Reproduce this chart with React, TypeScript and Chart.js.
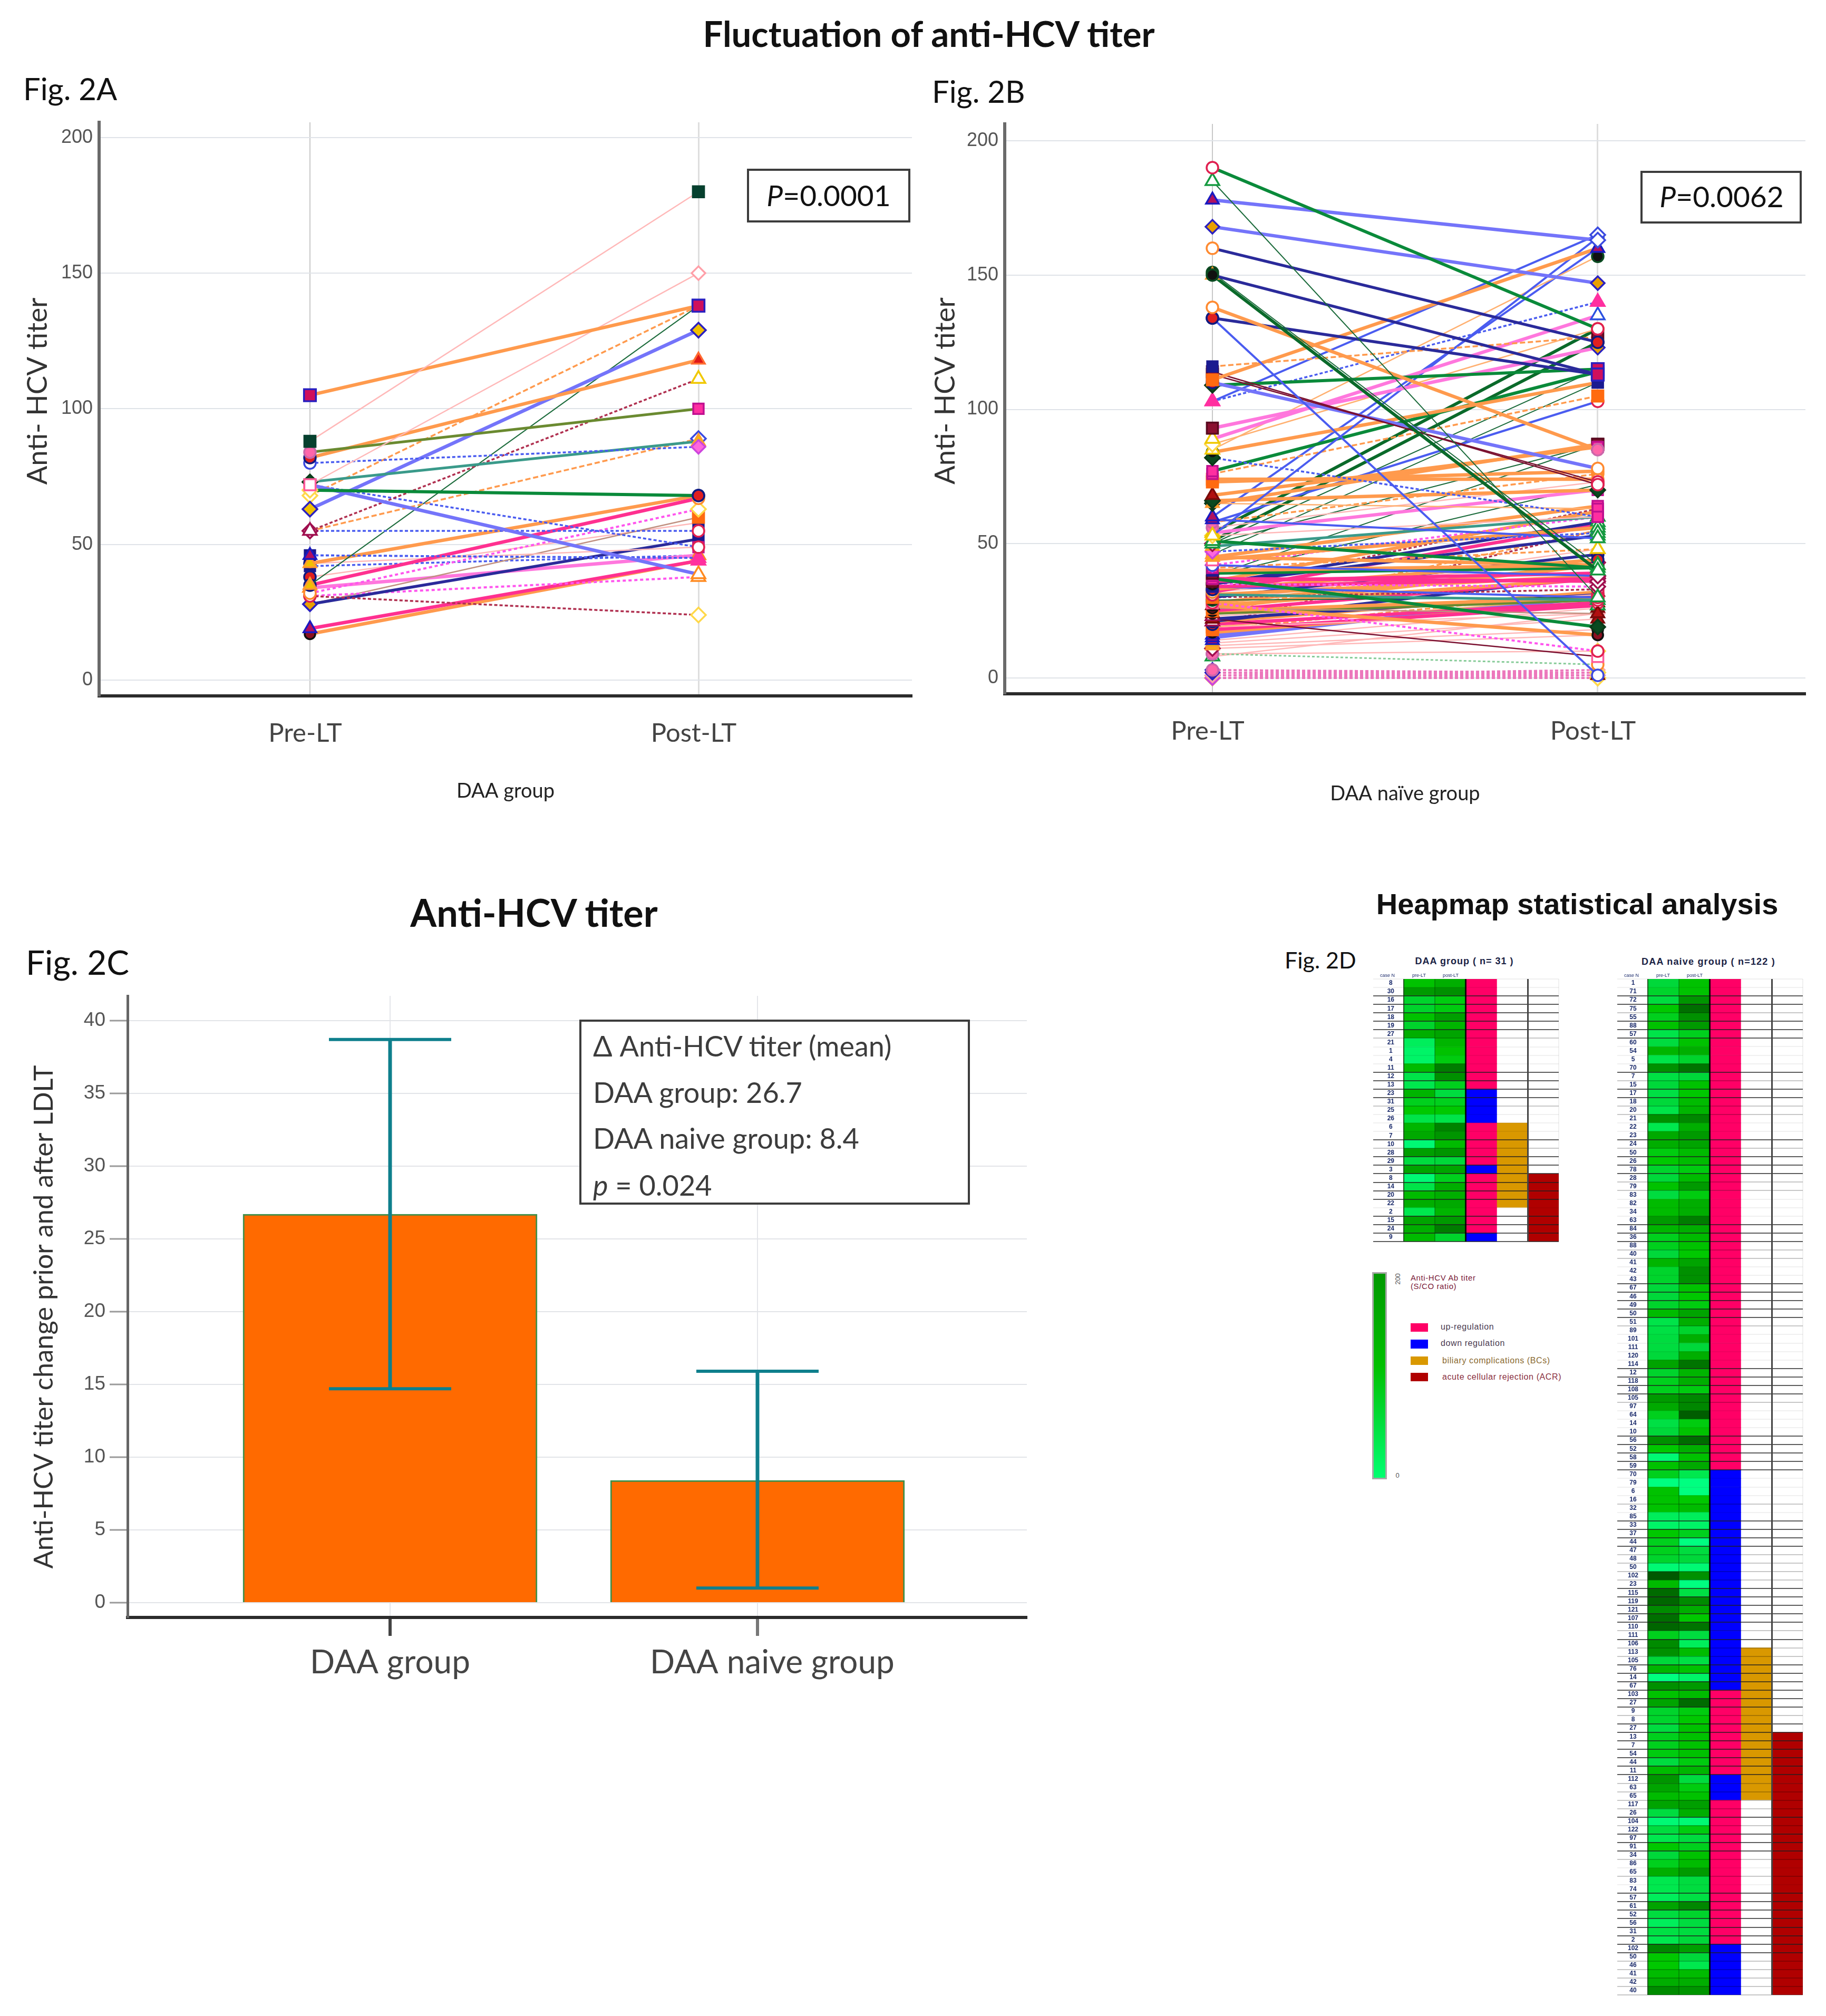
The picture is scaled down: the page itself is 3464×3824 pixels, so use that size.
import React, { useEffect, useRef } from "react";
import Chart from "chart.js/auto";

// ---------- Fig 2A data ----------
const phaseLabels = ["Pre-LT", "Post-LT"];
const titerTicks = [0, 50, 100, 150, 200];
const preA = [88, 105, 72, 84, 82, 80, 73, 70, 72, 63, 68, 55, 55, 55, 72, 35, 46, 35, 43, 43, 46, 32, 31, 28, 31, 19, 17, 28, 34, 42, 38];
const postA = [180, 138, 150, 100, 118, 86, 88, 68, 39, 129, 138, 111, 89, 55, 49, 138, 45, 67, 68, 49, 45, 63, 24, 52, 38, 44, 44, 60, 46, 46, 58];
const linesA = "POPGOBTVLLDRDBBHBKOPBMRNMKOSQBP";
const marksPreA = "baqckdwnqenrssqoukoklpBEpuDEmlk";
const marksPostA = "baftgjokmeahiBBaApktonnlmAozmol";

// ---------- Fig 2B data ----------
const preB = [190, 185, 178, 168, 160, 150, 150, 151, 138, 134, 134, 116, 111, 114, 113, 110, 109, 103, 103, 93,
  89, 53, 87, 85, 84, 82, 77, 76, 74, 73, 68, 66, 65, 65, 60, 59, 58, 58, 56, 54,
  54, 53, 51, 51, 50, 50, 49, 47, 46, 45, 45, 44, 42, 42, 41, 40, 39, 38, 38, 37,
  37, 36, 36, 35, 35, 35, 34, 34, 33, 33, 32, 32, 31, 31, 30, 30, 29, 28, 28, 28,
  27, 27, 26, 26, 25, 25, 24, 24, 23, 22, 22, 21, 21, 20, 20, 19, 19, 18, 18, 17,
  16, 15, 14, 13, 12, 11, 9, 9, 8, 3, 3, 2, 2, 2, 1, 1, 1, 0, 0, 0, 0, 0];
const postB = [130, 30, 163, 147, 125, 113, 40, 42, 85, 113, 1, 127, 160, 72, 73, 78, 115, 165, 140, 123,
  135, 164, 130, 157, 110, 60, 114, 105, 74, 77, 86, 70, 87, 63, 160, 52, 103, 76, 73, 130,
  70, 60, 125, 41, 115, 87, 60, 54, 110, 42, 64, 56, 38, 60, 48, 42, 41, 87, 72, 19,
  36, 39, 62, 58, 53, 34, 37, 30, 44, 63, 57, 43, 29, 38, 46, 33, 30, 42, 48, 10,
  37, 16, 24, 42, 37, 30, 29, 55, 31, 31, 8, 38, 32, 28, 55, 30, 24, 27, 32, 28,
  30, 31, 26, 22, 18, 16, 5, 10, 24, 1, 2, 0, 1, 2, 0, 1, 3, 0, 1, 0, 2, 0];
const linesB = "VHLLNNXHON" + "UDOWWLVUBQ" + "QUYYOBVDOO" + "OOOYUUUDPX" + "QPXVHHTBHO" + "OOUMDOVHHV" + "KKONNMKUOR" + "KPTONRHOPM" + "OOSOKOGDPN" + "WNOKRYPKDO" + "LLPPPPZPPI" + "IIIIIIIIIIII";
const marksPreB = "BxuEpvovpk" + "klzyykwAAy" + "hhnhvwttzz" + "Cwowuuccch" + "hnxxxsojoo" + "oqdjtlyttt" + "tyzDkvltkk" + "pvBkzBvBqD" + "DCDzDzCDrC" + "CrkkkzzzzD" + "uuuoosccxc" + "EEEfffjjfE" + "fn";
const marksPostB = "BxiEkaxxca" + "dyuBBpaiAE" + "Fkpvltazpp" + "twytuxBpBp" + "ttkxlyxxlx" + "txsthhvyBw" + "srtxxsrBkt" + "xsBskBBvhB" + "CDChsBxxBB" + "qsCBBBCxBC" + "BBCCDDpnfC" + "nnfnnEfnff" + "nf";

// ---------- Fig 2C data ----------
const groupTicks = [0, 1, 1.04];
const groupLabels = ["DAA group", "", "DAA naive group"];
const groupPositions = [0, 1];
const deltaMeans = [26.7, 8.4];
const errLow = [14.7, 1.0];
const errHigh = [38.7, 15.9];
const deltaTicks = [0, 5, 10, 15, 20, 25, 30, 35, 40];

// ---------- Fig 2D data ----------
const columnIndexes = [0, 1, 2, 3, 4];
const casesA = ["8", "30", "16", "17", "18", "19", "27", "21", "1", "4", "11", "12", "13", "23", "31", "25", "26", "6", "7", "10", "28", "29", "3", "8", "14", "20", "22", "2", "15", "24", "9"];
const heatPreA = [85, 120, 65, 65, 85, 65, 100, 35, 30, 30, 90, 45, 40, 95, 70, 80, 45, 95, 105, 25, 115, 55, 110, 25, 45, 90, 100, 40, 110, 100, 90];
const heatPostA = [100, 130, 75, 75, 115, 95, 110, 95, 85, 75, 150, 130, 70, 55, 70, 80, 45, 145, 125, 90, 125, 60, 110, 70, 100, 100, 105, 95, 120, 150, 65];
const regulationA = "UUUUUUUUUUUUU" + "DDDD" + "UUUUU" + "D" + "UUUUUUU" + "D";
const biliaryA = "00000000000000000" + "1111111111" + "0000";
const acrA = "00000000000000000000000" + "11111111";
const rulesA = "0" + "0222221000" + "2222100021" + "2222220222" + "2";

const casesB = ["1", "71", "72", "75", "55", "88", "57", "60", "54", "5", "70", "7", "15", "17", "18", "20", "21", "22", "23", "24",
  "50", "26", "78", "28", "79", "83", "82", "34", "63", "84", "36", "88", "40", "41", "42", "43", "67", "46", "49", "50",
  "51", "89", "101", "111", "120", "114", "12", "118", "108", "105", "97", "64", "14", "10", "56", "52", "58", "59",
  "70", "79", "6", "16", "32", "85", "33", "37", "44", "47", "48", "50", "102", "23", "115", "119", "121", "107", "110", "111", "106", "113",
  "105", "76", "14", "67", "103", "27", "9", "8", "27", "13", "7", "54", "44", "11", "112", "63", "65", "117", "26", "104",
  "122", "97", "91", "34", "86", "65", "83", "74", "57", "61", "52", "56", "31", "2", "102", "50", "46", "41", "42", "40"];
const heatPreB = [60, 65, 55, 80, 70, 85, 45, 55, 95, 45, 130, 50, 60, 50, 60, 45, 130, 40, 105, 100,
  75, 80, 65, 60, 85, 55, 90, 90, 120, 95, 70, 70, 60, 95, 65, 65, 60, 60, 65, 90,
  45, 50, 55, 55, 60, 110, 65, 70, 70, 120, 105, 70, 50, 60, 130, 80, 25, 85,
  70, 20, 85, 85, 85, 35, 30, 80, 70, 70, 65, 25, 190, 90, 170, 175, 135, 165, 175, 70, 135, 130,
  60, 95, 20, 130, 85, 110, 65, 65, 55, 70, 70, 75, 55, 90, 125, 110, 90, 110, 55, 25,
  55, 40, 80, 60, 70, 100, 40, 40, 35, 110, 55, 35, 50, 40, 140, 80, 80, 90, 100, 135];
const heatPostB = [85, 85, 125, 165, 130, 120, 70, 85, 100, 65, 160, 60, 85, 80, 90, 95, 140, 100, 120, 110,
  90, 90, 75, 90, 120, 75, 100, 100, 150, 100, 90, 85, 80, 110, 130, 130, 85, 80, 75, 110,
  100, 65, 100, 60, 100, 160, 95, 100, 75, 140, 140, 185, 75, 85, 170, 100, 85, 105,
  40, 20, 20, 80, 90, 35, 30, 70, 20, 55, 60, 25, 130, 20, 50, 135, 100, 80, 160, 55, 35, 90,
  50, 85, 30, 120, 90, 170, 75, 80, 85, 85, 85, 85, 75, 95, 55, 75, 85, 115, 100, 25,
  75, 55, 70, 85, 90, 120, 55, 55, 50, 140, 65, 55, 55, 60, 115, 60, 40, 90, 100, 125];
const regulationB = "U".repeat(58) + "D".repeat(26) + "U".repeat(10) + "D".repeat(3) + "U".repeat(17) + "D".repeat(6);
const biliaryB = "0".repeat(79) + "1".repeat(18) + "0".repeat(23);
const acrB = "0".repeat(89) + "1".repeat(31);
const rulesB = "0" + "0221222000" + "2122110021" + "2221100022" + "2110022222" + "1000022221" + "00022222" + "00010" + "2222" + "1111" + "22222" + "121" + "1222222" + "1222222" + "2" + "111121" + "2221" + "0102" + "2222222";

// ---------- styles ----------
type LineKind = [string, number, number[]];
const LINE_KINDS: Record<string, LineKind> = {
  O: ["#ff9a4d", 6.5, []], D: ["#ff9a4d", 3.5, [10, 5]], P: ["#ffb8b8", 2.5, []], K: ["#ff3090", 6.5, []],
  Q: ["#ff77dd", 6.5, []], M: ["#ff55ee", 4, [6, 5]], I: ["#ec78bc", 3.5, [6, 4]], L: ["#7474fa", 6.5, []], U: ["#4a5cf0", 4, []],
  B: ["#4a5cf0", 3.5, [6, 4]], N: ["#2a2a9a", 5.5, []], V: ["#0a8a3a", 6, []], X: ["#0a6a2a", 6, []],
  H: ["#1a6a3a", 2, []], G: ["#6a8a30", 5, []], T: ["#3a9a8a", 5, []], R: ["#b03050", 3.5, [6, 4]],
  W: ["#7a1030", 2.5, []], S: ["#c09080", 2.5, []], Y: ["#ffb070", 2.5, []], Z: ["#88cc99", 3, [5, 4]],
};
type Mark = [string, string, string, number];
const MARKS: Record<string, Mark> = {
  a: ["rect", "#d0105c", "#2a20c0", 16], b: ["rect", "#06402e", "#06402e", 15], c: ["circle", "#ff66aa", "#cc66aa", 11],
  d: ["circle", "#ffffff", "#3a4ae0", 11], e: ["rectRot", "#f0c000", "#2a20c0", 14], f: ["rectRot", "#ffffff", "#ff9fa8", 13],
  g: ["triangle", "#e01818", "#ff6a30", 14], h: ["triangle", "#ffffff", "#f0c800", 15], i: ["rectRot", "#ffffff", "#3a4ae0", 14],
  j: ["rectRot", "#ff66dd", "#cc44dd", 13], k: ["circle", "#e02020", "#101a80", 11], l: ["rect", "#1a1a90", "#1a1a90", 14],
  m: ["triangle", "#ffffff", "#ff8a20", 15], n: ["rectRot", "#ffffff", "#ffd84a", 14], o: ["triangle", "#f0c000", "#ff9a30", 14],
  p: ["circle", "#ffffff", "#ff8a30", 11], q: ["rect", "#ffffff", "#ff5a9a", 15], r: ["triangle", "#ffffff", "#a01050", 15],
  s: ["rectRot", "#ffffff", "#a01050", 14], t: ["rect", "#ff2fa0", "#c01090", 14], u: ["triangle", "#b01060", "#1a1ac0", 14],
  v: ["circle", "#101010", "#0a4a20", 11], w: ["rectRot", "#0a4a20", "#0a3a18", 14], x: ["triangle", "#ffffff", "#159a40", 15],
  y: ["rect", "#8a1030", "#5a0a20", 15], z: ["rect", "#ff6a10", "#ff6a10", 15], A: ["triangle", "#ff2fa0", "#ff2fa0", 15],
  B: ["circle", "#ffffff", "#e02050", 11], C: ["triangle", "#b01010", "#7a0a0a", 14], D: ["circle", "#8a1020", "#101010", 10],
  E: ["rectRot", "#e8a000", "#2a20c0", 13], F: ["triangle", "#ffffff", "#2a50e0", 15],
};
const HEAT_STOPS: [number, number[]][] = [
  [0, [0, 255, 136]], [20, [0, 255, 128]], [40, [0, 232, 78]], [60, [0, 216, 58]], [80, [0, 200, 0]],
  [100, [0, 174, 0]], [130, [0, 144, 0]], [160, [0, 116, 0]], [190, [0, 88, 0]], [200, [0, 80, 0]],
];
function heatColor(v: number) {
  for (let i = 1; i < HEAT_STOPS.length; i++) {
    const [b, cb] = HEAT_STOPS[i];
    const [a, ca] = HEAT_STOPS[i - 1];
    if (v <= b) {
      const t = (v - a) / (b - a);
      const c = ca.map((q, k) => Math.round(q + (cb[k] - q) * t));
      return `rgb(${c[0]},${c[1]},${c[2]})`;
    }
  }
  return "rgb(0,80,0)";
}
const FONT_C = "Lato, 'Open Sans', sans-serif";
const FONT_A = "'Liberation Sans', Arial, sans-serif";

// Keep the plot rectangle exactly as laid out: no extra room for half tick labels.
function pinBox(s: any, size: { width?: number; height?: number }) {
  if (size.width !== undefined) s.width = size.width;
  if (size.height !== undefined) s.height = size.height;
  s.paddingLeft = 0;
  s.paddingRight = 0;
  s.paddingTop = 0;
  s.paddingBottom = 0;
}

// ---------- chart configs ----------
function pairedConfig(p: any) {
  const datasets = p.pre.map((v: number, i: number) => {
    const kind = LINE_KINDS[p.lines[i]] ?? LINE_KINDS.P;
    const m0 = MARKS[p.marksPre[i]] ?? MARKS.d;
    const m1 = MARKS[p.marksPost[i]] ?? MARKS.d;
    return {
      type: "line",
      data: [{ x: 0, y: v }, { x: 1, y: p.post[i] }],
      borderColor: kind[0],
      borderWidth: kind[1],
      borderDash: kind[2],
      tension: 0,
      pointStyle: [m0[0], m1[0]],
      pointBackgroundColor: [m0[1], m1[1]],
      pointBorderColor: [m0[2], m1[2]],
      pointRadius: [m0[3], m1[3]],
      pointBorderWidth: 3.5,
    };
  });
  return {
    type: "line",
    data: { datasets },
    options: {
      responsive: false, animation: false, events: [],
      layout: { autoPadding: false, padding: { top: 10, right: 10, left: 0, bottom: 0 } },
      plugins: { legend: { display: false }, tooltip: { enabled: false } },
      scales: {
        x: {
          type: "linear", min: p.xMin, max: p.xMax,
          afterBuildTicks: (s: any) => { s.ticks = [{ value: 0 }, { value: 1 }]; },
          afterFit: (s: any) => pinBox(s, { height: p.xAxisH }),
          border: { color: "#2b2b2b", width: 6 },
          grid: {
            drawTicks: false,
            color: (c: any) => (c.index === 0 ? "#c8c8c8" : "#dedede"),
            lineWidth: (c: any) => (c.index === 0 ? 2 : 3),
          },
          ticks: {
            autoSkip: false, maxRotation: 0, padding: 42, labelOffset: -9,
            color: "#444", font: { family: FONT_C, size: 49 },
            callback: (v: number) => phaseLabels[v] ?? "",
          },
          title: { display: true, text: p.xTitle, color: "#222", font: { family: FONT_C, size: 38 }, padding: { top: 0, bottom: 4 } },
        },
        y: {
          type: "linear", min: p.yMin, max: p.yMax,
          afterBuildTicks: (s: any) => { s.ticks = titerTicks.map((value) => ({ value })); },
          afterFit: (s: any) => pinBox(s, { width: p.yAxisW }),
          border: { color: "#6a6a6a", width: 6 },
          grid: { drawTicks: false, color: "#dfe3e8", lineWidth: 2 },
          ticks: { padding: 12, color: "#555", font: { family: FONT_A, size: 36 } },
          title: { display: true, text: "     Anti- HCV titer", color: "#333", font: { family: FONT_C, size: 53 }, padding: { top: 10, bottom: 0 } },
        },
      },
    },
  };
}

function barConfig() {
  const bars = {
    type: "bar",
    order: 2,
    data: groupPositions.map((x, i) => ({ x, y: deltaMeans[i] })),
    backgroundColor: "#ff6a00",
    borderColor: "#3f8f4a",
    borderWidth: 3,
    barThickness: 558,
  };
  const errors = groupPositions.map((x, i) => ({
    type: "line",
    order: 1,
    data: [{ x, y: errHigh[i] }, { x, y: errLow[i] }],
    borderColor: "#0e7f8c",
    borderWidth: 7,
    pointStyle: "line",
    pointRadius: 116,
    pointBorderColor: "#0e7f8c",
    pointBorderWidth: 6,
    tension: 0,
  }));
  return {
    type: "bar",
    data: { datasets: [bars, ...errors] },
    options: {
      responsive: false, animation: false, events: [],
      layout: { autoPadding: false, padding: { top: 10, right: 10, left: 0, bottom: 0 } },
      plugins: { legend: { display: false }, tooltip: { enabled: false } },
      scales: {
        x: {
          type: "linear", min: -0.7145, max: 1.7332, offset: false,
          afterBuildTicks: (s: any) => { s.ticks = groupTicks.map((value) => ({ value })); },
          afterFit: (s: any) => pinBox(s, { height: 130 }),
          border: { color: "#2b2b2b", width: 6 },
          grid: {
            offset: false,
            tickLength: 35, tickWidth: 6,
            tickColor: (c: any) => (c.index === 2 ? "rgba(0,0,0,0)" : c.index === 0 ? "#444" : "#777"),
            color: (c: any) => (c.index === 2 ? "rgba(0,0,0,0)" : "#e4e6ea"),
            lineWidth: 2,
          },
          ticks: {
            autoSkip: false, maxRotation: 0, padding: 14, color: "#444",
            font: { family: FONT_C, size: 62 },
            callback: (_v: number, i: number) => groupLabels[i] ?? "",
          },
        },
        y: {
          type: "linear", min: 0 - 28 / 27.575, max: 41.7,
          afterBuildTicks: (s: any) => { s.ticks = deltaTicks.map((value) => ({ value })); },
          afterFit: (s: any) => pinBox(s, { width: 192 }),
          border: { color: "#666", width: 5 },
          grid: { color: "#e2e4e8", lineWidth: 2, tickLength: 34, tickWidth: 3, tickColor: "#9a9a9a" },
          ticks: { padding: 8, color: "#555", font: { family: FONT_A, size: 37 } },
          title: { display: true, text: "Anti-HCV titer change prior and after LDLT   ", color: "#333", font: { family: FONT_C, size: 50.5 }, padding: { top: 3, bottom: 0 } },
        },
      },
    },
  };
}

function heatConfig(p: any) {
  const one = p.cases.map(() => 1);
  const bars = [
    p.pre.map(heatColor),
    p.post.map(heatColor),
    p.reg.split("").map((c: string) => (c === "U" ? "#ff0066" : "#0000ff")),
    p.bil.split("").map((c: string) => (c === "1" ? "#d99800" : "#ffffff")),
    p.acr.split("").map((c: string) => (c === "1" ? "#b00000" : "#ffffff")),
  ];
  const lineAlpha = (c: any) => {
    const i = c.index ?? p.cases.length;
    const k = p.rules[i] ?? "1";
    return k === "2" ? "rgba(30,30,30,0.72)" : k === "1" ? "rgba(0,0,0,0.22)" : "rgba(0,0,0,0.06)";
  };
  return {
    type: "bar",
    data: {
      labels: p.cases,
      datasets: columnIndexes.map((col) => ({
        data: one,
        backgroundColor: bars[col],
        borderWidth: 0,
        barPercentage: 1,
        categoryPercentage: 1,
        stack: "s",
      })),
    },
    options: {
      indexAxis: "y",
      responsive: false, animation: false, events: [],
      layout: { autoPadding: false, padding: { top: 4, right: 4, left: 0, bottom: 4 } },
      plugins: { legend: { display: false }, tooltip: { enabled: false } },
      scales: {
        x: {
          type: "linear", position: "top", stacked: true, min: 0, max: 5,
          afterBuildTicks: (s: any) => { s.ticks = [0, 1, 2, 3, 4, 5].map((value) => ({ value })); },
          afterFit: (s: any) => pinBox(s, { height: 0 }),
          border: { display: false },
          ticks: { display: false },
          grid: {
            z: 2, drawTicks: false,
            color: (c: any) => ["rgba(0,60,0,0.85)", "rgba(0,60,0,0.35)", "rgba(0,0,0,0.9)", "rgba(0,0,0,0)", "#444", "rgba(0,0,0,0.06)"][c.index ?? 5],
            lineWidth: (c: any) => [2, 2, 3, 1, 3, 2][c.index ?? 5],
          },
        },
        y: {
          type: "category", stacked: true,
          afterFit: (s: any) => pinBox(s, { width: 58 }),
          border: { display: false },
          grid: { z: 1, offset: true, tickLength: 58, color: lineAlpha, tickColor: lineAlpha, lineWidth: 2, tickWidth: 2 },
          ticks: {
            autoSkip: false, maxRotation: 0, crossAlign: "center", padding: -40,
            color: "#1a2a6a", font: { family: FONT_A, size: 12, weight: "bold" },
          },
        },
      },
    },
  };
}

// ---------- helpers ----------
function ChartBox({ left, top, width, height, config }: any) {
  const ref = useRef<HTMLCanvasElement>(null);
  useEffect(() => {
    const chart = new Chart(ref.current as HTMLCanvasElement, config());
    return () => chart.destroy();
  }, []);
  return <canvas ref={ref} width={width} height={height} style={{ position: "absolute", left, top, width, height, display: "block" }} />;
}
function T({ x, y, size, font = FONT_C, weight = 400, color = "#111", center = false, children, style }: any) {
  return (
    <div style={{
      position: "absolute", left: x, top: y, fontFamily: font, fontSize: size, fontWeight: weight, color,
      whiteSpace: "nowrap", lineHeight: 1, transform: center ? "translate(-50%,-50%)" : "translateY(-50%)", ...style,
    }}>{children}</div>
  );
}
function Box({ x, y, w, h, b = 4, children }: any) {
  return <div style={{ position: "absolute", left: x, top: y, width: w, height: h, boxSizing: "border-box", border: `${b}px solid #3c3c3c`, background: "#fff" }}>{children}</div>;
}
function Swatch({ x, y, w, h, color }: any) {
  return <div style={{ position: "absolute", left: x, top: y, width: w, height: h, background: color }} />;
}
const legendFont = { letterSpacing: "0.6px" };

export default function App() {
  return (
    <div style={{ position: "absolute", left: 0, top: 0, width: 3464, height: 3824, background: "#fff", overflow: "hidden" }}>
      <T x={1762} y={63} size={67} weight={700} center>Fluctuation of anti-HCV titer</T>
      <T x={44} y={168} size={58}>Fig. 2A</T>
      <T x={1768} y={173} size={58}>Fig. 2B</T>
      <T x={1013} y={1730} size={72} weight={700} center>Anti-HCV titer</T>
      <T x={49} y={1825} size={64}>Fig. 2C</T>
      <T x={2437} y={1820} size={43}>Fig. 2D</T>
      <T x={2992} y={1715} size={56} font={FONT_A} weight={700} center>Heapmap statistical analysis</T>

      <ChartBox left={30} top={222} width={1710} height={1306} config={() => pairedConfig({
        pre: preA, post: postA, lines: linesA, marksPre: marksPreA, marksPost: marksPostA,
        xMin: -0.5427, xMax: 1.5495, yMin: -5.83, yMax: 205.6, xAxisH: 208, yAxisW: 158, xTitle: "DAA group",
      })} />
      <ChartBox left={1752} top={225} width={1683} height={1308} config={() => pairedConfig({
        pre: preB, post: postB, lines: linesB, marksPre: marksPreB, marksPost: marksPostB,
        xMin: -0.539, xMax: 1.539, yMin: -5.89, yMax: 206.3, xAxisH: 217, yAxisW: 154, xTitle: "DAA naïve group",
      })} />
      <ChartBox left={50} top={1879} width={1908} height={1319} config={barConfig} />
      <ChartBox left={2605} top={1853} width={356} height={506} config={() => heatConfig({
        cases: casesA, pre: heatPreA, post: heatPostA, reg: regulationA, bil: biliaryA, acr: acrA, rules: rulesA,
      })} />
      <ChartBox left={3068} top={1853} width={356} height={1935} config={() => heatConfig({
        cases: casesB, pre: heatPreB, post: heatPostB, reg: regulationB, bil: biliaryB, acr: acrB, rules: rulesB,
      })} />

      <Box x={1417} y={320} w={310} h={102}><T x={151} y={46} size={55} center><i>P</i>=0.0001</T></Box>
      <Box x={3112} y={324} w={306} h={100}><T x={150} y={44} size={55} center><i>P</i>=0.0062</T></Box>
      <Box x={1099} y={1934} w={741} h={351} b={4}>
        <T x={22} y={46} size={54} color="#3c3c3c">Δ Anti-HCV titer (mean)</T>
        <T x={22} y={134} size={54} color="#3c3c3c">DAA group: 26.7</T>
        <T x={22} y={221} size={54} color="#3c3c3c">DAA naive group: 8.4</T>
        <T x={22} y={310} size={54} color="#3c3c3c"><i>p</i> = 0.024</T>
      </Box>

      <T x={2778} y={1823} size={18} font={FONT_A} weight={700} color="#1a2244" center style={{ letterSpacing: "1px" }}>DAA group ( n= 31 )</T>
      <T x={3241} y={1824} size={18} font={FONT_A} weight={700} color="#1a2244" center style={{ letterSpacing: "1.2px" }}>DAA naive group ( n=122 )</T>
      <T x={2632} y={1850} size={9} font={FONT_A} color="#1a2a6a" center>case N</T>
      <T x={2692} y={1850} size={9} font={FONT_A} color="#1a2a6a" center>pre-LT</T>
      <T x={2752} y={1850} size={9} font={FONT_A} color="#1a2a6a" center>post-LT</T>
      <T x={3095} y={1850} size={9} font={FONT_A} color="#1a2a6a" center>case N</T>
      <T x={3155} y={1850} size={9} font={FONT_A} color="#1a2a6a" center>pre-LT</T>
      <T x={3215} y={1850} size={9} font={FONT_A} color="#1a2a6a" center>post-LT</T>

      <div style={{ position: "absolute", left: 2603, top: 2413, width: 28, height: 393, boxSizing: "border-box", border: "3px solid #a8a8a8", background: "linear-gradient(#009800, #00c000 45%, #00e040 75%, #00ff70)" }} />
      <T x={2651} y={2426} size={13} font={FONT_A} color="#555" center style={{ transform: "translate(-50%,-50%) rotate(-90deg)" }}>200</T>
      <T x={2651} y={2798} size={13} font={FONT_A} color="#555" center>0</T>
      <T x={2676} y={2423} size={15} font={FONT_A} color="#7a1838" style={legendFont}>Anti-HCV Ab titer</T>
      <T x={2676} y={2439} size={15} font={FONT_A} color="#7a1838" style={legendFont}>(S/CO ratio)</T>
      <Swatch x={2676} y={2510} w={33} h={16} color="#ff0066" />
      <Swatch x={2676} y={2541} w={33} h={17} color="#0000ff" />
      <Swatch x={2676} y={2573} w={33} h={16} color="#d99800" />
      <Swatch x={2676} y={2604} w={33} h={16} color="#b00000" />
      <T x={2733} y={2517} size={16} font={FONT_A} color="#4a3a50" style={legendFont}>up-regulation</T>
      <T x={2733} y={2548} size={16} font={FONT_A} color="#4a3a50" style={legendFont}>down regulation</T>
      <T x={2736} y={2581} size={16} font={FONT_A} color="#8a6a30" style={legendFont}>biliary complications (BCs)</T>
      <T x={2736} y={2612} size={16} font={FONT_A} color="#8a3040" style={legendFont}>acute cellular rejection (ACR)</T>
    </div>
  );
}
